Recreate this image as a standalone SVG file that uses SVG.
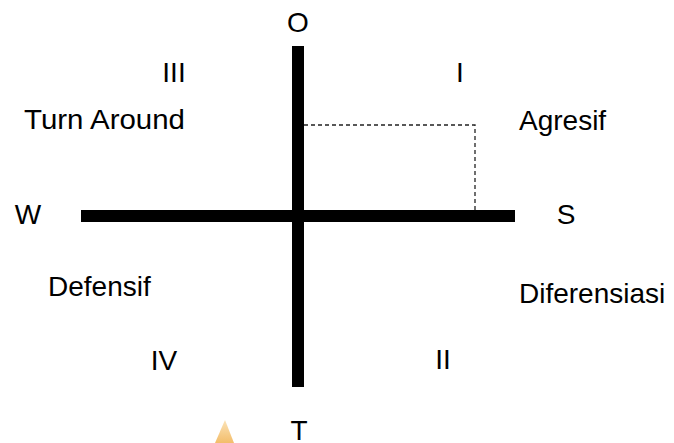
<svg xmlns="http://www.w3.org/2000/svg" width="674" height="443" viewBox="0 0 674 443">
  <style>
    .lbl { font-family: "Liberation Sans", Arial, sans-serif; font-size: 28px; fill: #000; }
    .axis { fill: #000; }
    .dash { fill: none; stroke: #222; stroke-width: 1.3; stroke-dasharray: 4 3; }
  </style>
  <defs>
    <linearGradient id="wm" x1="0" y1="0" x2="0" y2="1">
      <stop offset="0" stop-color="#fbe3b8"/>
      <stop offset="1" stop-color="#f3bd6a"/>
    </linearGradient>
  </defs>
  <rect width="674" height="443" fill="#fff"/>

  <g id="axes">
    <rect class="axis" x="292" y="46" width="12" height="341"/>
    <rect class="axis" x="81" y="210" width="434" height="12"/>
  </g>

  <g id="connectors">
    <polyline class="dash" points="304,125 475,125 475,210"/>
  </g>

  <g id="label-O"><text class="lbl" x="298" y="32" text-anchor="middle">O</text></g>
  <g id="label-T"><text class="lbl" x="299" y="440" text-anchor="middle">T</text></g>
  <g id="label-W"><text class="lbl" x="28" y="224" text-anchor="middle">W</text></g>
  <g id="label-S"><text class="lbl" x="566" y="224" text-anchor="middle">S</text></g>

  <g id="quadrant-I">
    <text class="lbl" x="460" y="82" text-anchor="middle">I</text>
    <text class="lbl" x="519" y="130">Agresif</text>
  </g>
  <g id="quadrant-II">
    <text class="lbl" x="443" y="369" text-anchor="middle">II</text>
    <text class="lbl" x="519" y="303">Diferensiasi</text>
  </g>
  <g id="quadrant-III">
    <text class="lbl" x="174" y="82" text-anchor="middle">III</text>
    <text class="lbl" x="24" y="129" textLength="161" lengthAdjust="spacingAndGlyphs">Turn Around</text>
  </g>
  <g id="quadrant-IV">
    <text class="lbl" x="164" y="370" text-anchor="middle">IV</text>
    <text class="lbl" x="48" y="296">Defensif</text>
  </g>

  <g id="watermark">
    <polygon points="225,420 234,443 215,443" fill="url(#wm)"/>
  </g>
</svg>
